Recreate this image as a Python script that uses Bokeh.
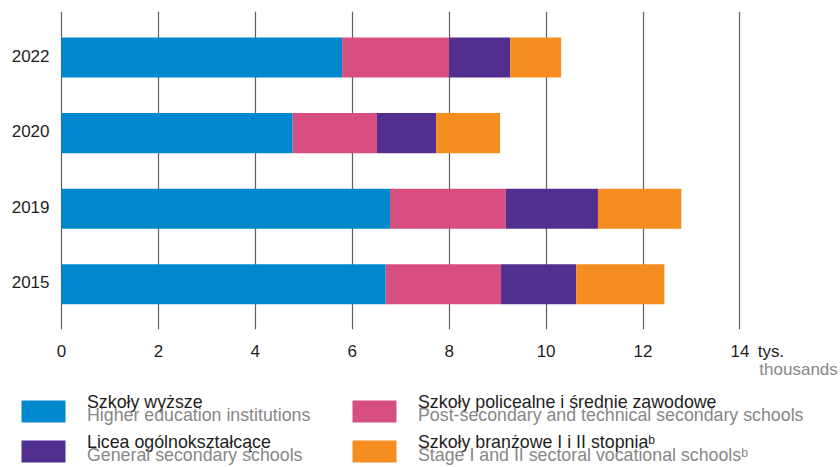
from bokeh.plotting import figure
from bokeh.models import ColumnDataSource, Range1d, FixedTicker, LinearAxis
from bokeh.layouts import column
from bokeh.embed import file_html
from bokeh.resources import INLINE
from bokeh.core.properties import value

# ---------------- data ----------------
years = ["2015", "2019", "2020", "2022"]
higher = [6.69, 6.78, 4.77, 5.79]
post_secondary = [2.38, 2.39, 1.74, 2.21]
general = [1.55, 1.90, 1.22, 1.26]
sectoral = [1.82, 1.72, 1.32, 1.05]
x_ticks = [0, 2, 4, 6, 8, 10, 12, 14]
series_keys = ["higher", "post_secondary", "general", "sectoral"]
series_pl = ["Szkoły wyższe", "Szkoły policealne i średnie zawodowe",
             "Licea ogólnokształcące", "Szkoły branżowe I i II stopnia\u1d47"]
series_en = ["Higher education institutions", "Post-secondary and technical secondary schools",
             "General secondary schools", "Stage I and II sectoral vocational schools\u1d47"]
colors = ["#0088cf", "#d64f80", "#512f8f", "#f68d21"]
unit_pl = "tys."
unit_en = "thousands"

# ---------------- layout constants ----------------
FONT = "Liberation Sans"
DARK = "#1e1e1e"
GRAY = "#878787"
W = 840
H1 = 386            # chart part
H2 = 467 - H1       # legend part
X0_PX = 61          # pixel of value 0
PX_PER_UNIT = 48.46
UNIT_PL_X = 14.64   # centre of "tys." label (axis units)
UNIT_EN_X = 15.21   # centre of "thousands" label

# ---------------- main chart ----------------
ypos = list(range(len(years)))
src = ColumnDataSource(dict(y=ypos, higher=higher, post_secondary=post_secondary,
                            general=general, sectoral=sectoral))

p = figure(width=W, height=H1, output_backend="svg", toolbar_location=None,
           x_range=Range1d(-X0_PX / PX_PER_UNIT, (W - X0_PX) / PX_PER_UNIT),
           y_range=Range1d(-0.6, 3.61), y_axis_location=None,
           min_border_left=0, min_border_right=0, min_border_top=11,
           min_border_bottom=H1 - 329)
p.hbar_stack(series_keys, y="y", height=0.53, color=colors, source=src, line_width=0)

# category (year) labels at the left of the value axis
p.text(x=[0] * len(years), y=ypos, text=years, x_offset=-12, y_offset=-2,
       text_align="right", text_baseline="middle", text_font=value(FONT),
       text_font_size=value("17px"), text_color=DARK)

p.outline_line_color = None
p.background_fill_color = "white"
p.ygrid.visible = False
p.xgrid.ticker = FixedTicker(ticks=x_ticks)
p.xgrid.grid_line_color = "#5f5f5f"
p.xgrid.grid_line_width = 1.2

xa = p.xaxis[0]
xa.ticker = FixedTicker(ticks=x_ticks + [UNIT_PL_X])
xa.major_label_overrides = {UNIT_PL_X: unit_pl}
xa.axis_line_color = None
xa.major_tick_line_color = None
xa.minor_tick_line_color = None
xa.major_tick_out = 0
xa.major_label_standoff = 12
xa.major_label_text_font = FONT
xa.major_label_text_font_size = "17px"
xa.major_label_text_color = DARK

xa2 = LinearAxis(ticker=FixedTicker(ticks=[UNIT_EN_X]),
                 major_label_overrides={UNIT_EN_X: unit_en},
                 axis_line_color=None, major_tick_line_color=None,
                 minor_tick_line_color=None, major_tick_out=0,
                 major_label_standoff=-4, major_label_text_font=FONT,
                 major_label_text_font_size="17px", major_label_text_color=GRAY)
p.add_layout(xa2, "below")

# ---------------- legend ----------------
leg = figure(width=W, height=H2, output_backend="svg", toolbar_location=None,
             x_range=Range1d(0, W), y_range=Range1d(H2, 0),
             x_axis_location=None, y_axis_location=None,
             min_border=0, min_border_left=0, min_border_right=0,
             min_border_top=0, min_border_bottom=0)
leg.grid.visible = False
leg.outline_line_color = None

col_x = [21, 352]
row_y = [14, 54]
sw_w, sw_h = 44, 22
n = len(series_keys)
lefts = [col_x[i % 2] for i in range(n)]
tops = [row_y[i // 2] for i in range(n)]
leg.quad(left=lefts, right=[l + sw_w for l in lefts], top=tops,
         bottom=[t + sw_h for t in tops], fill_color=colors, line_color=None)
tx = [l + 65.5 for l in lefts]
leg.text(x=tx, y=[t + 1.2 for t in tops], text=series_pl, text_font=value(FONT),
         text_font_size=value("17.8px"), text_color=DARK, text_baseline="alphabetic")
leg.text(x=tx, y=[t + 14.5 for t in tops], text=series_en, text_font=value(FONT),
         text_font_size=value("17.8px"), text_color=GRAY, text_baseline="alphabetic")

layout = column(p, leg, spacing=0)
open("out.html", "w").write(file_html(layout, INLINE))
